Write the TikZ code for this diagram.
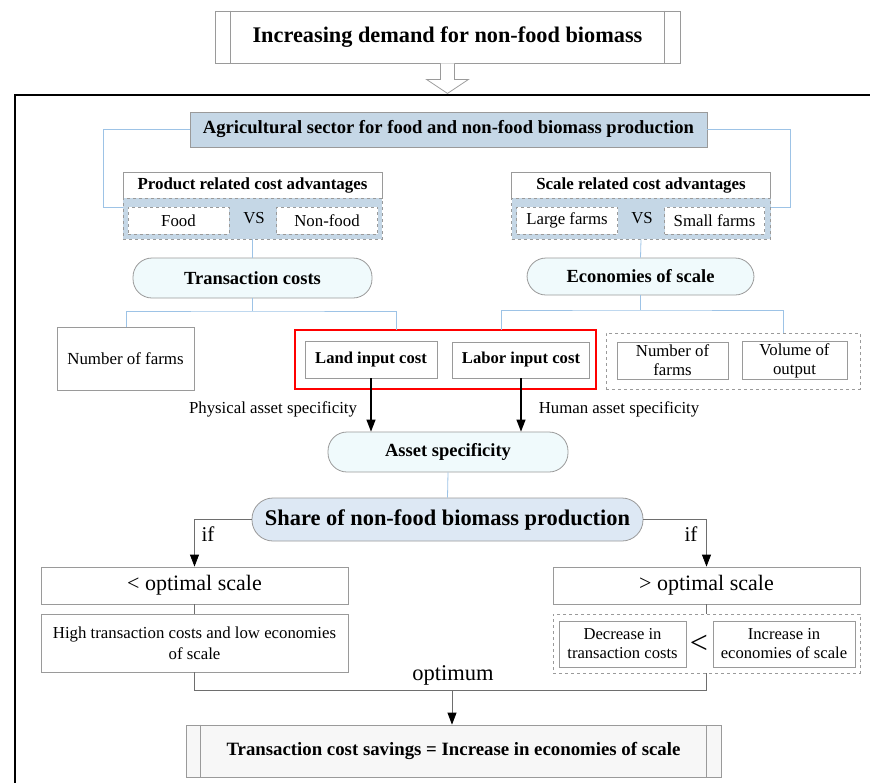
\documentclass[tikz,border=0pt]{standalone}
\usepackage{fontspec}
\setmainfont{Liberation Serif}
\usetikzlibrary{arrows.meta}
\definecolor{bline}{HTML}{9DC3E6}
\definecolor{bfill}{HTML}{C5D7E6}
\definecolor{cfill}{HTML}{F0FAFC}
\definecolor{sfill}{HTML}{DDE8F4}
\definecolor{gb}{HTML}{9A9A9A}
\definecolor{dl}{HTML}{6E6E6E}
\tikzset{
  box/.style={draw=gb, line width=0.8pt, fill=white, inner sep=2pt, align=center, font=\fontsize{16.8}{19}\selectfont},
  bluebox/.style={box, fill=bfill},
  dbox/.style={box, dashed},
  stad/.style={draw=gb, line width=0.8pt, fill=cfill, rounded corners=19pt, inner sep=2pt, align=center, font=\fontsize{18.5}{21}\selectfont\bfseries},
  bl/.style={draw=bline, line width=0.8pt},
  gl/.style={draw=dl, line width=0.8pt},
  arr/.style={line width=1.2pt, -{Triangle[length=12pt,width=9pt]}},
  garr/.style={gl, -{Triangle[length=12pt,width=9pt,fill=black,color=black]}},
  lbl/.style={inner sep=0pt, font=\fontsize{16.8}{19}\selectfont},
}
\begin{document}
\begin{tikzpicture}[x=1pt,y=-1pt]
\useasboundingbox (0,0) rectangle (870,782);
% frame
\draw[line width=1.3pt] (15,790) -- (15,95) -- (880,95);
% top box
\node[box, minimum width=465pt, minimum height=52pt, font=\fontsize{22.3}{26}\selectfont\bfseries] (top) at (447.5,37) {Increasing demand for non-food biomass};
\draw[gb, line width=0.8pt] ([xshift=16pt]top.north west) -- ([xshift=16pt]top.south west);
\draw[gb, line width=0.8pt] ([xshift=-16pt]top.north east) -- ([xshift=-16pt]top.south east);
% hollow arrow
\draw[gb, line width=0.8pt, fill=white] ([xshift=-7pt]top.south) -- ++(0,16) -- ++(-14,0) -- ++(21,14) -- ++(21,-14) -- ++(-14,0) -- ++(0,-16);
% agricultural
\node[bluebox, minimum width=517pt, minimum height=35pt, font=\fontsize{18.6}{21}\selectfont\bfseries] (agri) at (448.5,129.5) {Agricultural sector for food and non-food biomass production};
% left group
\node[box, minimum width=259pt, minimum height=26pt, font=\fontsize{16.9}{19}\selectfont\bfseries] (lhead) at (252.5,185) {Product related cost advantages};
\node[bluebox, dashed, minimum width=259pt, minimum height=41pt] (lpanel) at (252.5,218.5) {};
\node[dbox, minimum width=101pt, minimum height=27pt] (food) at (178.5,220.5) {Food};
\node[dbox, minimum width=101pt, minimum height=27pt] (nonfood) at (327,220.5) {Non-food};
\node[lbl] (lvs) at (254,218) {VS};
% right group
\node[box, minimum width=259pt, minimum height=26pt, font=\fontsize{16.9}{19}\selectfont\bfseries] (rhead) at (641,185) {Scale related cost advantages};
\node[bluebox, dashed, minimum width=259pt, minimum height=41pt] (rpanel) at (641,218.5) {};
\node[dbox, minimum width=101pt, minimum height=27pt] (large) at (567,220.5) {Large farms};
\node[dbox, minimum width=100pt, minimum height=27pt] (small) at (714.5,220.5) {Small farms};
\node[lbl] (rvs) at (642,218) {VS};
% agri connectors
\coordinate (lj) at (103,207);
\coordinate (rj) at (790,207);
\draw[bl] (agri.west) -| (lj) -- (lj -| lpanel.west);
\draw[bl] (agri.east) -| (rj) -- (rj -| rpanel.east);
% stadiums
\node[stad, minimum width=239pt, minimum height=40pt] (tc) at (252.5,278) {Transaction costs};
\node[stad, minimum width=227pt, minimum height=37pt] (eos) at (640.5,276.5) {Economies of scale};
\draw[bl] (lpanel.south) -- (tc.north);
\draw[bl] (rpanel.south) -- (eos.north);
% third row
\node[box, minimum width=137pt, minimum height=63pt, font=\fontsize{16.9}{19}\selectfont] (nof) at (125.5,358.5) {Number of farms};
\node[draw=red, line width=2pt, minimum width=301pt, minimum height=59pt, inner sep=0pt] (red) at (445.5,359.5) {};
\node[box, minimum width=132pt, minimum height=37pt, font=\fontsize{16.6}{19}\selectfont\bfseries] (land) at (371,359.5) {Land input cost};
\node[box, minimum width=137pt, minimum height=36pt, font=\fontsize{16.6}{19}\selectfont\bfseries] (labor) at (521,360) {Labor input cost};
\node[dbox, minimum width=254pt, minimum height=56pt] (dash2) at (733,361) {};
\node[box, minimum width=111pt, minimum height=37pt, font=\fontsize{16.8}{19}\selectfont] (nof2) at (672.5,360.5) {Number of\\farms};
\node[box, minimum width=105pt, minimum height=37pt, font=\fontsize{16.8}{19}\selectfont] (vol) at (794.5,360.5) {Volume of\\output};
% tc split
\coordinate (tcs) at (254,311);
\draw[bl] (tc.south) -- (tc.south |- tcs);
\draw[bl] (126,327) |- (tcs) -| (396,330);
% eos split
\coordinate (eoss) at (642,310);
\draw[bl] (eos.south) -- (eos.south |- eoss);
\draw[bl] (501,330) |- (eoss) -| (783,333);
% arrows to asset
\node[stad, minimum width=240pt, minimum height=40pt] (asset) at (448,452) {Asset specificity};
\draw[arr] (land.south) -- (land.south |- asset.north);
\draw[arr] (labor.south) -- (labor.south |- asset.north);
\node[lbl] (phys) at (273,409) {Physical asset specificity};
\node[lbl] (hum) at (619,409) {Human asset specificity};
% share
\node[stad, fill=sfill, rounded corners=21pt, minimum width=391pt, minimum height=43pt, font=\fontsize{22.4}{26}\selectfont\bfseries] (share) at (447.5,519.5) {Share of non-food biomass production};
\draw[bl] (asset.south) -- (share.north);
% optimal scale boxes
\node[box, minimum width=307pt, minimum height=37pt, font=\fontsize{22}{26}\selectfont] (lopt) at (194.5,585.5) {< optimal scale};
\node[box, minimum width=307pt, minimum height=58pt, font=\fontsize{16.8}{21}\selectfont] (ldesc) at (194.5,643) {High transaction costs and low economies\\of scale};
\node[box, minimum width=307pt, minimum height=37pt, font=\fontsize{22}{26}\selectfont] (ropt) at (706.5,585.5) {> optimal scale};
\node[dbox, minimum width=307pt, minimum height=59pt] (rdash) at (706.5,643.5) {};
\node[box, minimum width=127pt, minimum height=46pt, font=\fontsize{16.6}{19}\selectfont] (dec) at (622.5,644) {Decrease in\\transaction costs};
\node[box, minimum width=142pt, minimum height=46pt, font=\fontsize{16.6}{19}\selectfont] (inc) at (784,644) {Increase in\\economies of scale};
\node[inner sep=0pt, font=\fontsize{32}{32}\selectfont] (lt) at (699,644) {<};
\draw[garr] (share.west) -| (lopt.north);
\draw[garr] (share.east) -| (ropt.north);
\node[lbl, font=\fontsize{21}{24}\selectfont] (if1) at (208,534) {if};
\node[lbl, font=\fontsize{21}{24}\selectfont] (if2) at (691,534) {if};
\draw[gl] (lopt.south) -- (ldesc.north);
\draw[gl] (ropt.south) -- (rdash.north);
% bottom
\node[box, fill=gray!6, minimum width=535pt, minimum height=52pt, font=\fontsize{18.8}{22}\selectfont\bfseries] (final) at (453.5,751) {Transaction cost savings = Increase in economies of scale};
\draw[gb, line width=0.8pt] ([xshift=15pt]final.north west) -- ([xshift=15pt]final.south west);
\draw[gb, line width=0.8pt] ([xshift=-15pt]final.north east) -- ([xshift=-15pt]final.south east);
\coordinate (bj) at (452,690);
\draw[gl] (ldesc.south) |- (bj) -| (rdash.south);
\draw[garr] (bj) -- (final.north -| bj);
\node[lbl, font=\fontsize{22.5}{26}\selectfont] (opt) at (453,675) {optimum};
\end{tikzpicture}
\end{document}
